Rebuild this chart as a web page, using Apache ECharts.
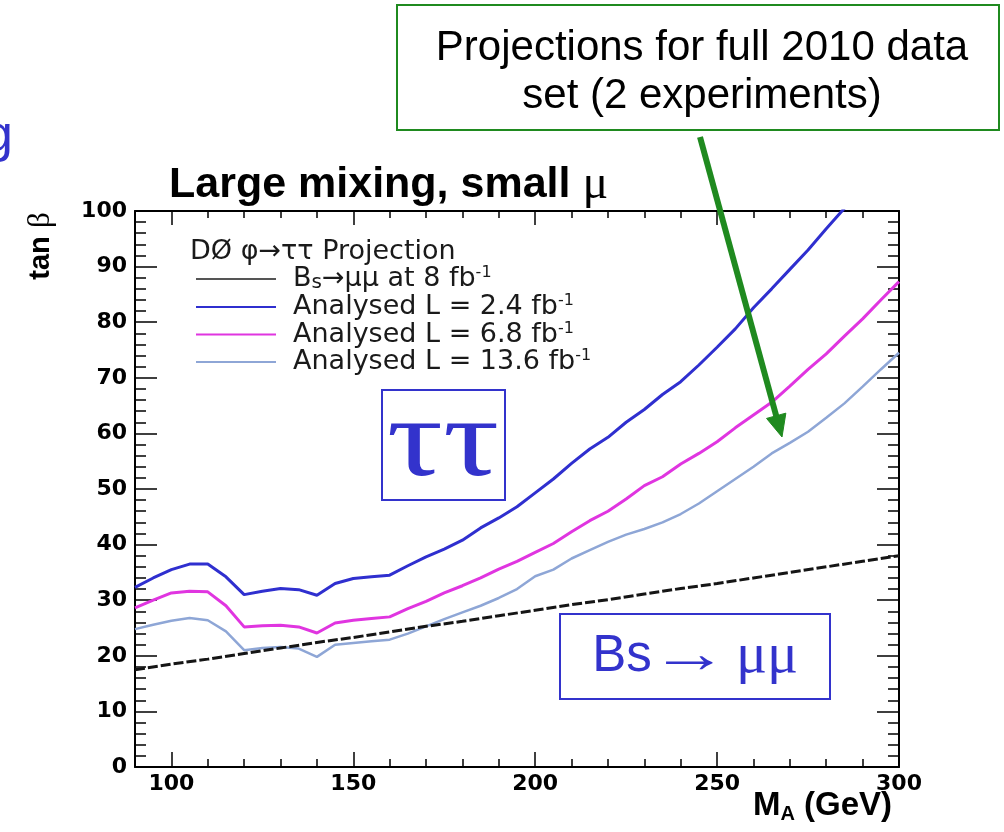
<!DOCTYPE html>
<html>
<head>
<meta charset="utf-8">
<title>Large mixing, small mu</title>
<script src="https://cdn.jsdelivr.net/npm/echarts@6/dist/echarts.min.js"></script>
<style>
  html, body { margin: 0; padding: 0; background: #ffffff; }
  #chart { width: 1004px; height: 832px; }
</style>
</head>
<body>
<div id="chart"></div>
<script>
// M_A grid (GeV) of the tau-tau limit curves
const massGrid = [90, 95, 100, 105, 110, 115, 120, 125, 130, 135, 140, 145, 150, 155, 160,
  165, 170, 175, 180, 185, 190, 195, 200, 205, 210, 215, 220, 225, 230, 235, 240,
  245, 250, 255, 260, 265, 270, 275, 280, 285, 290, 295, 300];

// tan(beta) limits for each analysed luminosity
const limitL24 = [32.3, 34.0, 35.5, 36.5, 36.5, 34.2, 31.0, 31.6, 32.1, 31.9, 30.9, 33.0, 33.9, 34.2, 34.5,
  36.2, 37.8, 39.2, 40.8, 43.0, 44.8, 46.8, 49.3, 51.8, 54.6, 57.2, 59.3, 62.0, 64.3, 67.0, 69.3,
  72.3, 75.5, 78.8, 82.6, 86.0, 89.5, 93.0, 96.8, 100.5];
const limitL68 = [28.6, 30.0, 31.3, 31.6, 31.5, 29.0, 25.2, 25.4, 25.5, 25.2, 24.1, 25.9, 26.4, 26.7, 27.0,
  28.5, 29.8, 31.3, 32.6, 34.0, 35.6, 37.0, 38.6, 40.2, 42.3, 44.3, 46.0, 48.2, 50.6, 52.2, 54.5,
  56.4, 58.5, 61.0, 63.3, 65.6, 68.5, 71.5, 74.3, 77.5, 80.6, 84.0, 87.3];
const limitL136 = [24.8, 25.6, 26.3, 26.8, 26.4, 24.4, 21.0, 21.4, 21.6, 21.3, 19.8, 22.0, 22.3, 22.6, 22.9,
  24.0, 25.3, 26.6, 27.8, 29.0, 30.4, 32.0, 34.3, 35.5, 37.5, 39.0, 40.5, 41.8, 42.8, 44.0, 45.5,
  47.4, 49.6, 51.8, 54.0, 56.4, 58.3, 60.3, 62.8, 65.4, 68.4, 71.5, 74.5];

// Bs -> mu mu reach at 8 fb^-1
const bsMass = [90, 100, 110, 120, 130, 140, 150, 160, 170, 180, 190, 200, 210, 220, 230, 240, 250, 260, 270, 280, 290, 300];
const bsLimit = [17.5, 18.5, 19.4, 20.4, 21.4, 22.4, 23.3, 24.3, 25.3, 26.2, 27.2, 28.2, 29.2, 30.1, 31.1, 32.1,
  33.0, 34.0, 35.0, 36.0, 37.0, 38.0];

// Axis ticks
const xMajorTicks = [100, 150, 200, 250, 300];
const xRange = [90, 300];
const yRange = [0, 100];

// Legend names
const nameBs = 'Bs→μμ at 8 fb-1';
const nameL24 = 'Analysed L = 2.4 fb-1';
const nameL68 = 'Analysed L = 6.8 fb-1';
const nameL136 = 'Analysed L = 13.6 fb-1';

function pairs(xs, ys) {
  return ys.map(function (v, i) { return [xs[i], v]; });
}

const BLUE_TXT = '#3333cc';
const GREEN = '#1f8a1f';
const INK = '#1a1a1a';
const C_L24 = '#2f2fcf';
const C_L68 = '#e035e0';
const C_L136 = '#8ea6d6';
const C_BS = '#151515';

const legendRich = {
  gap: { width: 12, fontSize: 27, lineHeight: 28 },
  t: { fontFamily: 'DejaVu Sans', fontSize: 27, lineHeight: 28, color: INK },
  sub: { fontFamily: 'DejaVu Sans', fontSize: 20, lineHeight: 4, verticalAlign: 'bottom', color: INK },
  sup: { fontFamily: 'DejaVu Sans', fontSize: 16, lineHeight: 14, verticalAlign: 'top', color: INK }
};

const legendLabels = {};
legendLabels[nameBs] = '{gap|}{t|B}{sub|s}{t|→μμ at 8 fb}{sup|-1}';
legendLabels[nameL24] = '{gap|}{t|Analysed L = 2.4 fb}{sup|-1}';
legendLabels[nameL68] = '{gap|}{t|Analysed L = 6.8 fb}{sup|-1}';
legendLabels[nameL136] = '{gap|}{t|Analysed L = 13.6 fb}{sup|-1}';

const tickLine = { color: '#000', width: 1.5 };
const tickFont = { fontFamily: 'DejaVu Sans', fontWeight: 'bold', fontSize: 22, color: '#000' };

function xAxisDef(pos, major) {
  const ax = {
    type: 'value', min: xRange[0], max: xRange[1], position: pos,
    axisLine: { show: major, onZero: false, lineStyle: { color: '#000', width: 2 } },
    splitLine: { show: false },
    axisLabel: { show: false }
  };
  if (major) {
    ax.axisTick = { show: true, inside: true, length: pos === 'bottom' ? 15 : 14, customValues: xMajorTicks, lineStyle: tickLine };
    if (pos === 'bottom') {
      ax.axisLabel = Object.assign({ show: true, customValues: xMajorTicks, margin: 6 }, tickFont);
    }
  } else {
    ax.interval = 10;
    ax.axisTick = { show: true, inside: true, length: pos === 'bottom' ? 8 : 7, lineStyle: tickLine };
  }
  return ax;
}

function yAxisDef(pos) {
  return {
    type: 'value', min: yRange[0], max: yRange[1], interval: 10, position: pos,
    axisLine: { show: true, onZero: false, lineStyle: { color: '#000', width: 2 } },
    axisTick: { show: true, inside: true, length: 22, lineStyle: tickLine },
    minorTick: { show: true, splitNumber: 5, length: 11, lineStyle: tickLine },
    splitLine: { show: false },
    minorSplitLine: { show: false },
    axisLabel: pos === 'left' ? Object.assign({ show: true, margin: 8 }, tickFont) : { show: false }
  };
}

// Arrow from the annotation box to the 13.6 fb^-1 curve
const arrowTail = [700, 137];
const arrowTip = [782, 437];
const arrowHead = (function () {
  const dx = arrowTip[0] - arrowTail[0], dy = arrowTip[1] - arrowTail[1];
  const len = Math.sqrt(dx * dx + dy * dy);
  const ux = dx / len, uy = dy / len;
  const hl = 22, hw = 10;
  const bx = arrowTip[0] - ux * hl, by = arrowTip[1] - uy * hl;
  return {
    base: [bx + ux * 2, by + uy * 2],
    pts: [[bx - uy * hw, by + ux * hw], arrowTip, [bx + uy * hw, by - ux * hw]]
  };
})();

const chart = echarts.init(document.getElementById('chart'), null, { renderer: 'canvas' });

chart.setOption({
  animation: false,
  backgroundColor: '#ffffff',
  title: {
    text: '{b|Large mixing, small }{m|μ}',
    left: 164, top: 156,
    textStyle: {
      rich: {
        b: { fontFamily: 'Liberation Sans', fontWeight: 'bold', fontSize: 43, color: '#000' },
        m: { fontFamily: 'Liberation Serif', fontWeight: 'normal', fontSize: 48, color: '#000' }
      }
    }
  },
  grid: { left: 135, right: 105, top: 211, bottom: 65, containLabel: false },
  xAxis: [xAxisDef('bottom', true), xAxisDef('bottom', false), xAxisDef('top', true), xAxisDef('top', false)],
  yAxis: [yAxisDef('left'), yAxisDef('right')],
  legend: {
    orient: 'vertical', left: 196, top: 265, padding: 0,
    width: 500, height: 200,
    itemWidth: 80, itemHeight: 2, itemGap: 0,
    selectedMode: false,
    icon: 'rect',
    data: [
      { name: nameBs, itemStyle: { color: '#555' } },
      { name: nameL24, itemStyle: { color: C_L24 } },
      { name: nameL68, itemStyle: { color: C_L68 } },
      { name: nameL136, itemStyle: { color: C_L136 } }
    ],
    formatter: function (n) { return legendLabels[n]; },
    textStyle: { rich: legendRich }
  },
  series: [
    {
      name: nameL24, type: 'line', data: pairs(massGrid, limitL24), symbol: 'none',
      xAxisIndex: 0, yAxisIndex: 0, clip: true,
      lineStyle: { color: C_L24, width: 3 }, itemStyle: { color: C_L24 }
    },
    {
      name: nameL68, type: 'line', data: pairs(massGrid, limitL68), symbol: 'none',
      xAxisIndex: 0, yAxisIndex: 0, clip: true,
      lineStyle: { color: C_L68, width: 3 }, itemStyle: { color: C_L68 }
    },
    {
      name: nameL136, type: 'line', data: pairs(massGrid, limitL136), symbol: 'none',
      xAxisIndex: 0, yAxisIndex: 0, clip: true,
      lineStyle: { color: C_L136, width: 2.5 }, itemStyle: { color: C_L136 }
    },
    {
      name: nameBs, type: 'line', data: pairs(bsMass, bsLimit), symbol: 'none',
      xAxisIndex: 0, yAxisIndex: 0, clip: true,
      lineStyle: { color: C_BS, width: 3, type: [10, 3] }, itemStyle: { color: C_BS }
    }
  ],
  graphic: [
    // fragment of a heading at the left edge
    {
      type: 'text', x: 13, y: 137,
      style: { text: 'g', fontFamily: 'Liberation Sans', fontSize: 52, fill: BLUE_TXT, textAlign: 'right', textVerticalAlign: 'middle' }
    },
    // legend header
    {
      type: 'text', x: 190, y: 252,
      style: { text: 'DØ φ→ττ Projection', fontFamily: 'DejaVu Sans', fontSize: 27, fill: INK, textAlign: 'left', textVerticalAlign: 'middle' }
    },
    // y axis title
    {
      type: 'text', x: 41, y: 246, rotation: Math.PI / 2,
      style: {
        text: '{t|tan }{b|β}', textAlign: 'center', textVerticalAlign: 'middle',
        rich: {
          t: { fontFamily: 'Liberation Sans', fontWeight: 'bold', fontSize: 29, fill: '#000' },
          b: { fontFamily: 'Liberation Serif', fontSize: 31, fill: '#000' }
        }
      }
    },
    // x axis title
    {
      type: 'text', x: 892, y: 806,
      style: {
        text: '{m|M}{s|A}{m| (GeV)}', textAlign: 'right', textVerticalAlign: 'middle',
        rich: {
          m: { fontFamily: 'Liberation Sans', fontWeight: 'bold', fontSize: 33, fill: '#000', lineHeight: 36 },
          s: { fontFamily: 'Liberation Sans', fontWeight: 'bold', fontSize: 20, fill: '#000', verticalAlign: 'bottom', lineHeight: 14 }
        }
      }
    },
    // annotation box
    {
      type: 'rect', shape: { x: 397, y: 5, width: 602, height: 125 },
      style: { fill: '#ffffff', stroke: GREEN, lineWidth: 2 }, z: 10
    },
    {
      type: 'text', x: 702, y: 48, z: 11,
      style: { text: 'Projections for full 2010 data', fontFamily: 'Liberation Sans', fontSize: 42, fill: '#000', textAlign: 'center', textVerticalAlign: 'middle' }
    },
    {
      type: 'text', x: 702, y: 96, z: 11,
      style: { text: 'set (2 experiments)', fontFamily: 'Liberation Sans', fontSize: 42, fill: '#000', textAlign: 'center', textVerticalAlign: 'middle' }
    },
    // arrow
    {
      type: 'polyline', z: 12,
      shape: { points: [arrowTail, arrowHead.base] },
      style: { stroke: GREEN, lineWidth: 6, fill: null }
    },
    {
      type: 'polygon', z: 12,
      shape: { points: arrowHead.pts },
      style: { fill: GREEN, stroke: GREEN, lineWidth: 1 }
    },
    // tau tau region label
    {
      type: 'rect', shape: { x: 382, y: 390, width: 123, height: 110 }, z: 10,
      style: { fill: '#ffffff', stroke: BLUE_TXT, lineWidth: 2 }
    },
    {
      type: 'text', x: 443, y: 446, z: 11, scaleX: 1.25,
      style: { text: 'ττ', fontFamily: 'Liberation Serif', fontSize: 112, fill: BLUE_TXT, textAlign: 'center', textVerticalAlign: 'middle' }
    },
    // Bs -> mu mu region label
    {
      type: 'rect', shape: { x: 560, y: 614, width: 270, height: 85 }, z: 10,
      style: { fill: '#ffffff', stroke: BLUE_TXT, lineWidth: 2 }
    },
    {
      type: 'text', x: 622, y: 657, z: 11,
      style: { text: 'Bs', fontFamily: 'Liberation Sans', fontSize: 51, fill: BLUE_TXT, textAlign: 'center', textVerticalAlign: 'middle' }
    },
    {
      type: 'text', x: 689, y: 657, z: 11, scaleX: 1.4,
      style: { text: '→', fontFamily: 'Liberation Serif', fontSize: 56, fill: BLUE_TXT, textAlign: 'center', textVerticalAlign: 'middle' }
    },
    {
      type: 'text', x: 767, y: 657, z: 11,
      style: { text: 'μμ', fontFamily: 'Liberation Serif', fontSize: 58, fill: BLUE_TXT, textAlign: 'center', textVerticalAlign: 'middle' }
    }
  ]
});
</script>
</body>
</html>
